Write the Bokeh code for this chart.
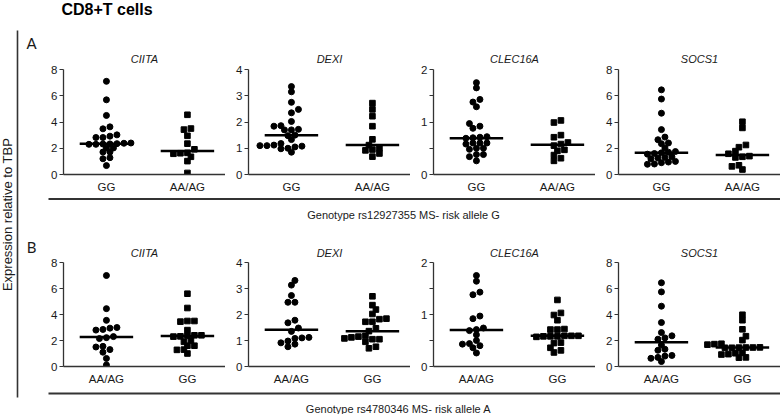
import numpy as np
from bokeh.plotting import figure
from bokeh.layouts import row, column
from bokeh.models import Range1d, FixedTicker, Label
from bokeh.embed import file_html
from bokeh.resources import INLINE

# ---------------- data ----------------
genes = ["CIITA", "DEXI", "CLEC16A", "SOCS1"]
rowA_groups = ["GG", "AA/AG"]
rowB_groups = ["AA/AG", "GG"]
y_max = [8, 4, 2, 8]
y_ticks = [[0, 2, 4, 6, 8], [0, 1, 2, 3, 4], [0, 1, 2], [0, 2, 4, 6, 8]]
y_minor = [[], [], [0.5, 1.5], []]

# Row A: rs12927355, first group GG (circles), second AA/AG (squares)
a_ciita_gg = [7.1, 5.69, 4.5, 3.63, 3.48, 3.02, 2.92, 2.82, 2.82, 2.4, 2.38, 2.35, 2.33,
              2.32, 2.3, 2.3, 2.02, 2.02, 1.71, 1.71, 1.28, 1.2, 0.68]
a_ciita_aa = [4.55, 3.5, 3.42, 2.95, 2.35, 1.92, 1.65, 1.62, 1.58, 1.35, 1.02, 0.12]
a_dexi_gg = [3.35, 3.15, 2.75, 2.48, 2.35, 2.02, 1.86, 1.84, 1.72, 1.7, 1.7, 1.5, 1.48,
             1.33, 1.18, 1.12, 1.1, 1.1, 1.08, 1.05, 1.0, 0.98, 0.85]
a_dexi_aa = [2.72, 2.48, 2.22, 1.84, 1.34, 1.12, 1.0, 0.95, 0.92, 0.8, 0.68]
a_clec_gg = [1.75, 1.65, 1.43, 1.38, 1.29, 0.97, 0.92, 0.88, 0.72, 0.71, 0.7, 0.69, 0.6,
             0.6, 0.6, 0.58, 0.5, 0.5, 0.48, 0.38, 0.38, 0.34, 0.26]
a_clec_aa = [1.03, 0.99, 0.75, 0.71, 0.61, 0.58, 0.55, 0.47, 0.45, 0.37, 0.31, 0.26]
a_socs_gg = [6.45, 5.75, 4.67, 3.42, 2.85, 2.65, 2.4, 2.35, 2.02, 1.75, 1.7, 1.65, 1.6,
             1.55, 1.35, 1.3, 1.25, 1.2, 1.0, 0.95, 0.9, 0.8, 0.78]
a_socs_aa = [4.02, 3.55, 2.25, 2.08, 1.78, 1.58, 1.4, 1.35, 1.3, 0.7, 0.62, 0.38]

# Row B: rs4780346, first group AA/AG (circles), second GG (squares)
b_ciita_aa = [7.0, 4.45, 3.55, 3.0, 2.95, 2.85, 2.8, 2.3, 2.22, 2.15, 1.55, 1.5, 1.3,
              1.1, 0.62, 0.12]
b_ciita_gg = [5.6, 4.5, 3.5, 3.5, 3.45, 2.8, 2.4, 2.4, 2.36, 2.32, 2.3, 2.0, 1.9, 1.6,
              1.6, 1.3, 1.28, 1.0]
b_dexi_aa = [3.31, 3.13, 2.73, 2.47, 2.47, 1.78, 1.68, 1.48, 1.35, 1.12, 1.1, 1.08,
             0.98, 0.91, 0.86, 0.76]
b_dexi_gg = [2.7, 2.36, 2.19, 2.02, 1.84, 1.82, 1.72, 1.72, 1.47, 1.36, 1.18, 1.15,
             1.12, 1.08, 1.05, 1.05, 0.95, 0.76, 0.7]
b_clec_aa = [1.75, 1.64, 1.43, 1.38, 0.97, 0.92, 0.74, 0.71, 0.69, 0.61, 0.5, 0.44,
             0.43, 0.4, 0.36, 0.26]
b_clec_gg = [1.28, 1.03, 0.99, 0.89, 0.72, 0.71, 0.71, 0.59, 0.59, 0.59, 0.58, 0.58,
             0.58, 0.57, 0.46, 0.45, 0.36, 0.31, 0.27]
b_socs_aa = [6.44, 5.74, 4.64, 3.38, 2.61, 2.36, 2.2, 2.1, 1.65, 1.33, 1.25, 0.85, 0.8,
             0.7, 0.63, 0.38]
b_socs_gg = [3.98, 3.56, 2.86, 2.33, 2.03, 1.75, 1.72, 1.68, 1.47, 1.46, 1.46, 1.45,
             1.44, 1.44, 1.05, 1.02, 0.95, 0.92, 0.7, 0.68]

rowA_data = [(a_ciita_gg, a_ciita_aa), (a_dexi_gg, a_dexi_aa),
             (a_clec_gg, a_clec_aa), (a_socs_gg, a_socs_aa)]
rowB_data = [(b_ciita_aa, b_ciita_gg), (b_dexi_aa, b_dexi_gg),
             (b_clec_aa, b_clec_gg), (b_socs_aa, b_socs_gg)]

title_text = "CD8+T cells"
ylabel_text = "Expression relative to TBP"
geno_a = "Genotype rs12927355 MS- risk allele G"
geno_b = "Genotype rs4780346 MS- risk allele A"

# ---------------- styling ----------------
FONT = "Liberation Sans"
INK = "#1a1a1a"
AX = "#333333"
PANEL_W = 185
BORDER_L = 23
X0, X1 = 0.47, 2.47
FRAME_W = PANEL_W - BORDER_L
PX_PER_X = FRAME_W / (X1 - X0)


def swarm(vals, ymax, frame_h, thr=3.0, s=7.0, dmin=5.2):
    """Prism-like layout: values close in height share a row, spread side by side;
    a row is shifted sideways if it would overlap rows already placed."""
    vals = np.asarray(vals, float)
    py = frame_h / ymax
    order = np.argsort(vals, kind="stable")
    groups, cur, start = [], [], None
    for i in order:
        y = vals[i] * py
        if cur and y - start < thr:
            cur.append(i)
        else:
            if cur:
                groups.append(cur)
            cur, start = [i], y
    groups.append(cur)
    shifts = [0.0]
    for k in range(1, 20):
        shifts += [k * s / 2, -k * s / 2]
    offs = np.zeros(len(vals))
    placed = []
    for g in groups:
        n = len(g)
        base = [(j - (n - 1) / 2) * s for j in range(n)]
        ys = [vals[i] * py for i in g]
        for sh in shifts:
            ok = all((b + sh - px) ** 2 + (y - yy) ** 2 >= dmin * dmin
                     for b, y in zip(base, ys) for px, yy in placed)
            if ok:
                break
        for b, y, i in zip(base, ys, g):
            offs[i] = b + sh
            placed.append((b + sh, y))
    return offs / PX_PER_X


def panel(k, groups, data, height, btop, bbot, standoff):
    frame_h = height - btop - bbot
    p = figure(width=PANEL_W, height=height, x_range=Range1d(X0, X1),
               y_range=Range1d(0, y_max[k]), output_backend="svg",
               toolbar_location=None, min_border_left=BORDER_L, min_border_right=0,
               min_border_top=btop, min_border_bottom=bbot, title=genes[k])
    p.title.text_font = FONT
    p.title.text_font_style = "italic"
    p.title.text_font_size = "11px"
    p.title.text_color = INK
    p.title.align = "center"
    p.title.standoff = standoff
    p.grid.visible = False
    p.outline_line_color = None
    p.background_fill_color = None
    p.border_fill_color = None

    p.xaxis.ticker = FixedTicker(ticks=[1, 2])
    p.xaxis.major_label_overrides = {1: groups[0], 2: groups[1]}
    p.xaxis.major_tick_out = 0
    p.xaxis.major_tick_in = 0
    p.xaxis.minor_tick_line_color = None
    p.xaxis.major_label_standoff = 6
    p.xaxis.major_label_text_font_size = "11.5px"

    p.yaxis.ticker = FixedTicker(ticks=y_ticks[k], minor_ticks=y_minor[k])
    p.yaxis.major_tick_out = 4
    p.yaxis.major_tick_in = 0
    p.yaxis.minor_tick_out = 4
    p.yaxis.minor_tick_in = 0
    p.yaxis.major_label_standoff = 2
    p.yaxis.major_label_text_font_size = "11.5px"

    for ax in p.axis:
        ax.axis_line_color = AX
        ax.axis_line_width = 1.3
        ax.major_tick_line_color = AX
        ax.minor_tick_line_color = AX if ax in p.yaxis else None
        ax.major_label_text_font = FONT
        ax.major_label_text_color = INK

    markers = ["circle", "square"]
    sizes = [6, 5.6]
    for g, vals in enumerate(data):
        c = g + 1
        offs = swarm(vals, y_max[k], frame_h)
        p.scatter(x=c + offs, y=vals, marker=markers[g], size=sizes[g],
                  fill_color="black", line_color="black")
        med = float(np.median(vals))
        p.segment(x0=[c - 0.33], x1=[c + 0.33], y0=[med], y1=[med],
                  line_color="black", line_width=2.5)
    return p


def canvas(w, h):
    p = figure(width=w, height=h, x_range=Range1d(0, w), y_range=Range1d(h, 0),
               output_backend="svg", toolbar_location=None, min_border=0,
               x_axis_location=None, y_axis_location=None)
    p.grid.visible = False
    p.outline_line_color = None
    p.background_fill_color = None
    p.border_fill_color = None
    return p


# left strip (global x 0-40)
left = canvas(40, 414)
left.segment(x0=[17], y0=[30], x1=[17], y1=[397], line_color=AX, line_width=1.6)
left.add_layout(Label(x=7, y=214, text=ylabel_text, angle=np.pi / 2, text_font=FONT,
                      text_font_size="13px", text_color=INK, text_align="center",
                      text_baseline="middle"))
left.add_layout(Label(x=31, y=42, text="A", text_font="Lato", text_font_size="15px",
                      text_color=INK, text_align="center", text_baseline="middle"))
left.add_layout(Label(x=31, y=246, text="B", text_font="Lato", text_font_size="15px",
                      text_color=INK, text_align="center", text_baseline="middle"))

# header
header = canvas(740, 44)
header.add_layout(Label(x=21, y=9, text=title_text, text_font=FONT,
                        text_font_style="bold", text_font_size="16px", text_color="black",
                        text_align="left", text_baseline="middle"))

rowA = row(*[panel(k, rowA_groups, rowA_data[k], 151, 25, 20, 9) for k in range(4)])

sepA = canvas(740, 45)
sepA.segment(x0=[8], y0=[3.5], x1=[740], y1=[3.5], line_color=AX, line_width=2)
sepA.add_layout(Label(x=363, y=19, text=geno_a, text_font=FONT, text_font_size="11px",
                      text_color=INK, text_align="center", text_baseline="middle"))

rowB = row(*[panel(k, rowB_groups, rowB_data[k], 148,
                   22 if k == 3 else 19, 19 if k == 3 else 22, 7) for k in range(4)])

sepB = canvas(740, 26)
sepB.segment(x0=[8], y0=[5], x1=[740], y1=[5], line_color=AX, line_width=2)
sepB.add_layout(Label(x=358, y=20, text=geno_b, text_font=FONT, text_font_size="11px",
                      text_color=INK, text_align="center", text_baseline="middle"))

right = column(header, rowA, sepA, rowB, sepB)
p = row(left, right)

open("out.html", "w").write(file_html(p, INLINE))
